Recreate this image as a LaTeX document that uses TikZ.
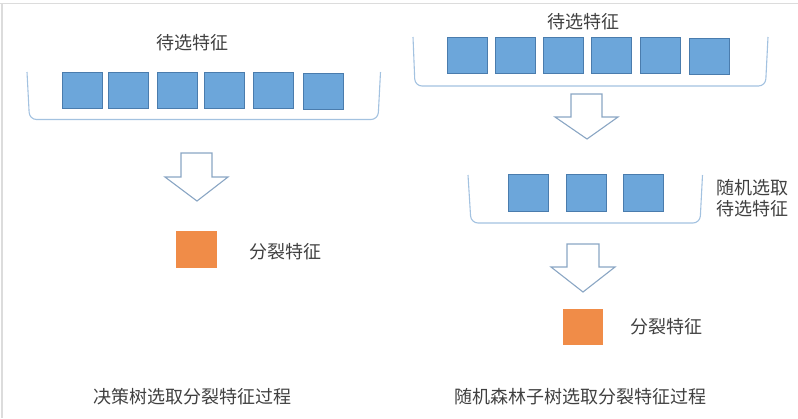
\documentclass[tikz,border=0pt]{standalone}
\usepackage{fontspec}
\setmainfont{Noto Sans CJK SC}
\definecolor{sqfill}{HTML}{6CA6DA}
\definecolor{sqline}{HTML}{4A7CAD}
\definecolor{orfill}{HTML}{F08C48}
\definecolor{brk}{HTML}{A3C2E0}
\definecolor{arr}{HTML}{8AA6C4}
\definecolor{txt}{HTML}{404040}
\definecolor{frame}{HTML}{DCDCDC}
\tikzset{
  bsq/.style={draw=sqline, line width=0.8pt, fill=sqfill, minimum width=40pt, minimum height=36pt, inner sep=0pt, anchor=north west},
  osq/.style={fill=orfill, minimum width=41pt, minimum height=37pt, inner sep=0pt, anchor=north west},
  lbl/.style={text=txt, inner sep=0pt, font=\fontsize{18}{21}\selectfont},
  brack/.style={draw=brk, line width=1.1pt, rounded corners=7pt},
  hollow/.style={draw=arr, line width=1.1pt, fill=white, line join=miter}
}
\begin{document}
\begin{tikzpicture}[x=1pt,y=-1pt]
\useasboundingbox (0,0) rectangle (798,418);
% frame lines
\draw[frame, line width=1.5pt] (0,3.3) -- (798,3.3);
\draw[frame, line width=1.5pt] (1.8,3.3) -- (1.8,418);

% ---------- left panel ----------
\node[lbl] (ltitle) at (192.5,43) {待选特征};
\draw[brack] (27,72) -- (29.5,119.5) -- (378,119.5) -- (380.5,72);
\node[bsq] (l1) at (62,72) {};
\node[bsq] (l2) at (108,72) {};
\node[bsq] (l3) at (156.5,72) {};
\node[bsq] (l4) at (204,72) {};
\node[bsq] (l5) at (253,72) {};
\node[bsq] (l6) at (303,73) {};
\draw[hollow] (181,153) -- (212,153) -- (212,177) -- (228,177) -- (197,201) -- (165,177) -- (181,177) -- cycle;
\node[osq] (lsplit) at (176,231) {};
\node[lbl] (lsplittxt) at (285,252) {分裂特征};
\node[lbl] (lcap) at (192,397) {决策树选取分裂特征过程};

% ---------- right panel ----------
\node[lbl] (rtitle) at (583.5,22) {待选特征};
\draw[brack] (413,37) -- (415,86) -- (765.5,86) -- (768,37);
\node[bsq] (r1) at (447,37) {};
\node[bsq] (r2) at (495,37) {};
\node[bsq] (r3) at (543,37) {};
\node[bsq] (r4) at (591,37) {};
\node[bsq] (r5) at (640,37) {};
\node[bsq] (r6) at (689,38) {};
\draw[hollow] (571,94) -- (602,94) -- (602,117) -- (618,117) -- (587,139) -- (555,117) -- (571,117) -- cycle;

\draw[brack] (468,175) -- (471,223) -- (700,223) -- (702.5,175);
\node[bsq, minimum height=37pt] (m1) at (508,174) {};
\node[bsq, minimum height=37pt] (m2) at (565.5,174) {};
\node[bsq, minimum height=37pt] (m3) at (622.5,174) {};
\node[lbl, align=left, anchor=west] (mtxt) at (716,198.5) {随机选取\\待选特征};
\draw[hollow] (567,244) -- (599,244) -- (599,267) -- (615,267) -- (583,292) -- (551,267) -- (567,267) -- cycle;
\node[osq, minimum width=40pt, minimum height=36pt] (rsplit) at (563,309) {};
\node[lbl] (rsplittxt) at (666.5,327) {分裂特征};
\node[lbl] (rcap) at (580.5,397) {随机森林子树选取分裂特征过程};
\end{tikzpicture}
\end{document}
